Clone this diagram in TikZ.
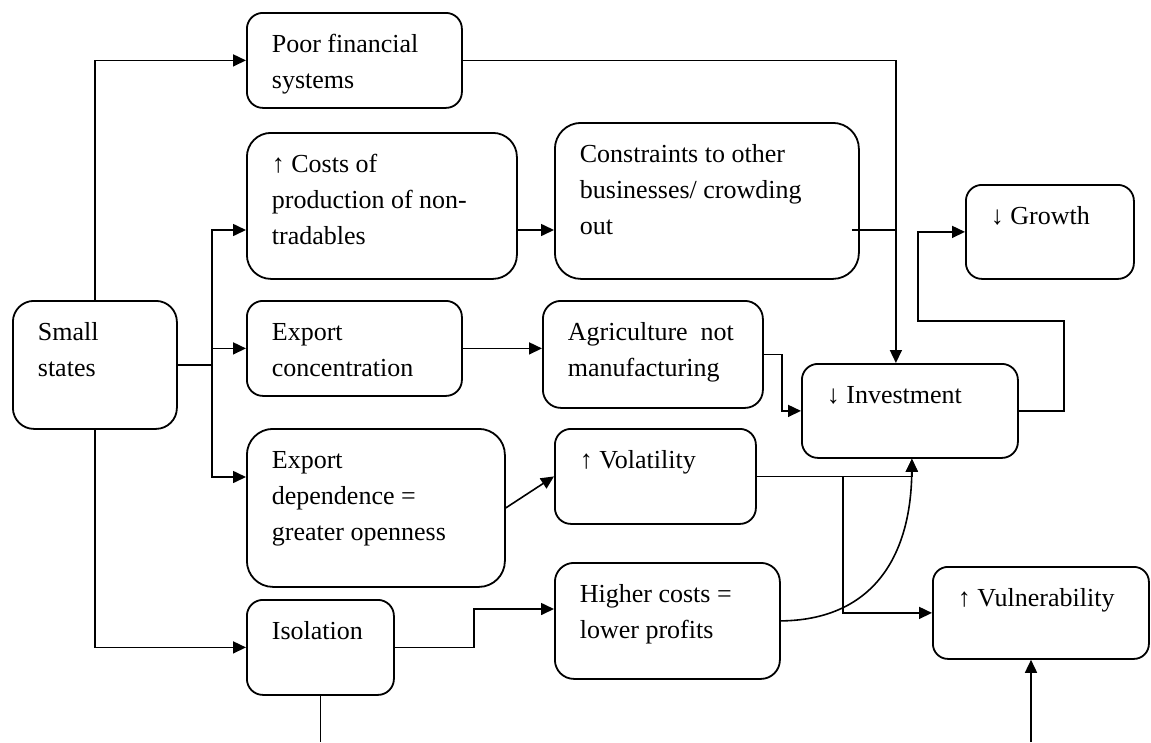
\documentclass[tikz,border=0pt]{standalone}
\usepackage{fontspec}
\setmainfont{Liberation Serif}
\usetikzlibrary{arrows.meta,calc}
\tikzset{
  box/.style={draw, line width=1.8pt, inner sep=0pt, anchor=north west},
  conn/.style={line width=1.6pt, line join=miter},
  arr/.style={conn, -{Triangle[length=13pt,width=12pt]}},
}
\newcommand\bx[7]{%
  \node[box, rounded corners=#6pt, minimum width=#4pt, minimum height=#5pt] (#1) at (#2,#3)
  {\parbox[c][#5pt][t]{#4pt}{\raggedright\leftskip=25pt\rule{0pt}{40pt}#7\par}};}
\begin{document}
\begin{tikzpicture}[x=1pt,y=-1pt,font=\fontsize{26}{36}\selectfont]
\useasboundingbox (0,0) rectangle (1151,742);
\bx{fin}{246}{12}{215}{95}{16}{Poor financial\\systems}
\bx{costs}{246}{132}{270}{146}{24}{↑ Costs of\\production of non-\\tradables}
\bx{constr}{554}{122}{304}{156}{26}{Constraints to other\\businesses/ crowding\\out}
\bx{growth}{965}{184}{168}{94}{16}{↓ Growth}
\bx{small}{12}{300}{164}{128}{21}{Small\\states}
\bx{econc}{246}{300}{215}{95}{16}{Export\\concentration}
\bx{agri}{542}{300}{220}{107}{18}{Agriculture\ \ not\\manufacturing}
\bx{invest}{801}{363}{216}{94}{16}{↓ Investment}
\bx{edep}{246}{428}{258}{158}{26}{Export\\dependence =\\greater openness}
\bx{vol}{554}{428}{201}{95}{16}{↑ Volatility}
\bx{iso}{246}{599}{147}{95}{16}{Isolation}
\bx{higher}{554}{562}{225}{116}{19}{Higher costs =\\lower profits}
\bx{vuln}{932}{566}{216}{92}{15}{↑ Vulnerability}

\coordinate (br) at (small.east -| 212,0);
\draw[arr] (small.north) |- (fin.west);
\draw[conn] (small.east) -- (br);
\draw[arr] (br) |- ($(costs.north west)+(0,98)$);
\draw[arr] (br) |- (econc.west);
\draw[arr] (br) |- ($(edep.north west)+(0,49)$);
\draw[arr] (small.south) |- (iso.west);
\draw[arr] ($(costs.north east)+(0,98)$) -- ($(constr.north west)+(0,108)$);
\draw[arr] (econc.east) -- (econc.east -| agri.west);
\draw[arr] (edep.east) -- (vol.west);
\draw[arr] (iso.east) -| (474,609) -- ($(higher.north west)+(0,47)$);
\draw[arr] (fin.east) -| ($(invest.north)+(-14,0)$);
\draw[conn] ($(constr.north east)+(-8,108)$) -- (895,230);
\draw[arr] (agri.east) -- (agri.east -| 782,0) |- (invest.west);
\draw[arr] (invest.east) -- (invest.east -| 1064,0) -- (1064,321) -- (918,321) |- (growth.west);
\draw[arr] (vol.east) -| ($(invest.south)+(2,0)$);
\draw[arr] (vol.east) -- (vol.east -| 843,0) |- (vuln.west);
\draw[arr] (higher.east) .. controls (870,620) and (911,560) .. ($(invest.south)+(2,0)$);
\coordinate (isoEnd) at (iso.south |- 0,742);
\draw[conn] (iso.south) -- (isoEnd);
\coordinate (vulnStart) at (1031,742);
\draw[arr] (vulnStart) -- (vulnStart |- vuln.south);
\end{tikzpicture}
\end{document}
